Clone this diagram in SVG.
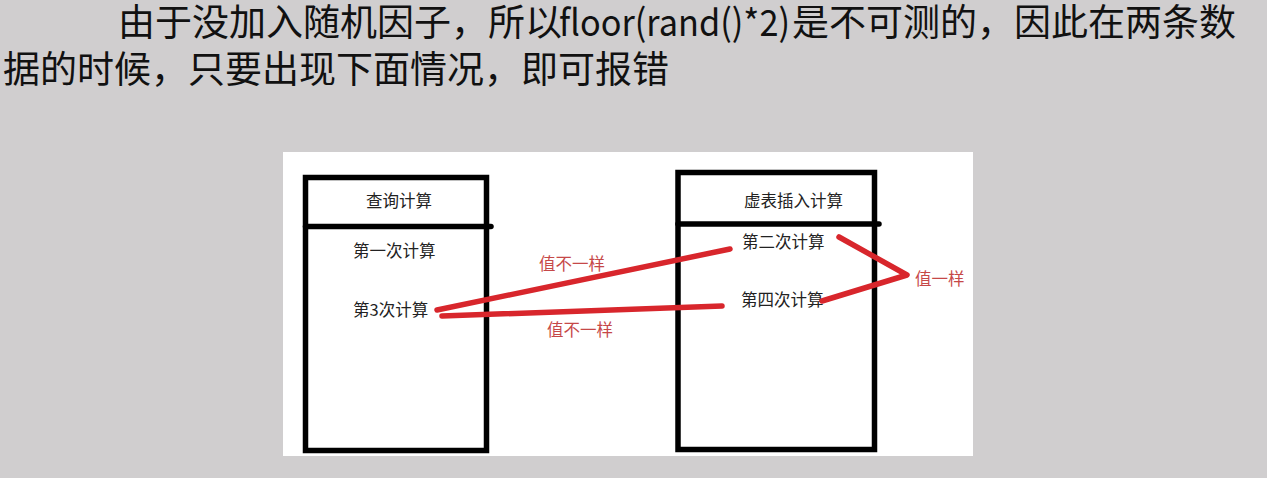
<svg xmlns="http://www.w3.org/2000/svg" width="1267" height="478" viewBox="0 0 1267 478">
  <style>
    .title { font-family: "Noto Sans CJK SC", "Noto Sans", sans-serif; font-size: 37px; fill: #111; }
    .box { fill: none; stroke: #000; stroke-width: 5.5; }
    .div { stroke: #000; stroke-width: 5.5; stroke-linecap: round; }
    .t { font-family: "Noto Sans CJK SC", sans-serif; font-size: 16.5px; fill: #222; }
    .lab { font-family: "Noto Sans CJK SC", sans-serif; font-size: 16.5px; fill: #c64848; }
    .red { fill: none; stroke: #d8262c; stroke-width: 5.5; stroke-linecap: round; stroke-linejoin: round; }
  </style>
  <rect x="0" y="0" width="1267" height="478" fill="#d0cecf"/>
  <g id="title">
    <text class="title" y="36"><tspan x="118">由于没加入随机因子，所以</tspan><tspan x="559" textLength="231" lengthAdjust="spacingAndGlyphs">floor(rand()*2)</tspan><tspan x="792">是不可测的，因此在两条数</tspan></text>
    <text class="title" x="3" y="83">据的时候，只要出现下面情况，即可报错</text>
  </g>
  <rect id="panel" x="283" y="152" width="690" height="304" fill="#fff"/>
  <g id="query-box">
    <rect class="box" x="305.5" y="177.5" width="181" height="273"/>
    <line class="div" x1="305.5" y1="226.5" x2="491" y2="226.5"/>
    <text class="t" x="366" y="207">查询计算</text>
    <text class="t" x="353" y="257">第一次计算</text>
    <text class="t" x="353" y="316">第3次计算</text>
  </g>
  <g id="vtable-box">
    <rect class="box" x="678" y="172.5" width="196.5" height="277"/>
    <line class="div" x1="678" y1="224" x2="879" y2="224"/>
    <text class="t" x="744" y="207">虚表插入计算</text>
    <text class="t" x="742" y="248">第二次计算</text>
    <text class="t" x="741" y="306">第四次计算</text>
  </g>
  <g id="connectors">
    <path class="red" d="M437,310 L730,249"/>
    <path class="red" d="M442,316 L722,306"/>
    <path class="red" d="M839,237 L907,275 L822,301"/>
  </g>
  <g id="labels">
    <text class="lab" x="539" y="270">值不一样</text>
    <text class="lab" x="547" y="336">值不一样</text>
    <text class="lab" x="915" y="285">值一样</text>
  </g>
</svg>
